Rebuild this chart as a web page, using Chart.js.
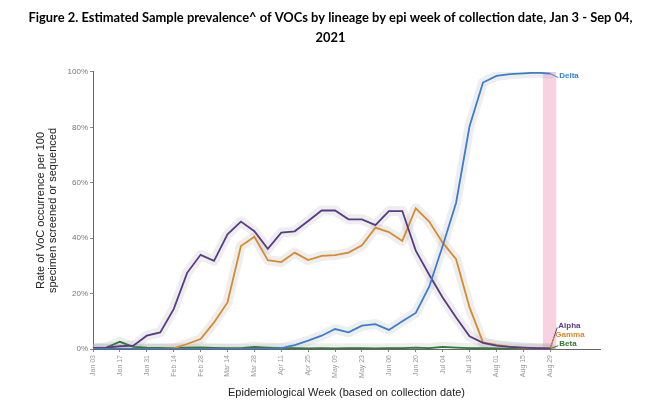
<!DOCTYPE html>
<html>
<head>
<meta charset="utf-8">
<script src="https://cdn.jsdelivr.net/npm/chart.js@4.4.1/dist/chart.umd.min.js"></script>
<style>
  html, body { margin: 0; padding: 0; background: #fff; }
  #wrap { width: 661px; height: 412px; position: relative; }
</style>
</head>
<body>
<div id="wrap"><canvas id="c" width="661" height="412"></canvas></div>
<script>
const titleLines = ['Figure 2. Estimated Sample prevalence^ of VOCs by lineage by epi week of collection date, Jan 3 - Sep 04,', '2021'];
const yTitle = ['Rate of VoC occurrence per 100', 'specimen screened or sequenced'];
const xTitle = 'Epidemiological Week (based on collection date)';

const weeks = ['Jan 03','Jan 10','Jan 17','Jan 24','Jan 31','Feb 07','Feb 14','Feb 21','Feb 28','Mar 07',
  'Mar 14','Mar 21','Mar 28','Apr 04','Apr 11','Apr 18','Apr 25','May 02','May 09','May 16',
  'May 23','May 30','Jun 06','Jun 13','Jun 20','Jun 27','Jul 04','Jul 11','Jul 18','Jul 25',
  'Aug 01','Aug 08','Aug 15','Aug 22','Aug 29'];

const alpha = [0.3,0.5,1.0,1.2,4.8,6.0,14.4,27.5,34.0,31.8,41.4,46.0,42.5,36.2,42.0,42.5,46.2,50.0,50.0,46.8,
  46.8,44.7,49.8,49.8,35.5,26.8,18.6,11.4,4.6,2.2,1.2,0.8,0.5,0.3,0.2];
const gamma = [0,0,0,0,0,0,0.2,1.8,3.6,9.6,16.8,37.2,40.5,32.1,31.4,34.8,32.1,33.6,33.9,34.8,
  37.4,43.8,42.2,39.0,50.8,46.0,38.4,32.4,15.0,2.4,1.5,0.8,0.4,0.2,0.2];
const delta = [0,0,0,0,0,0,0,0,0,0,0,0,0.1,0.1,0.3,1.4,3.0,4.8,7.2,6.0,
  8.4,9.0,6.9,10.0,13.0,22.5,37.2,52.8,80.4,96.2,98.6,99.2,99.5,99.8,99.4];
const beta = [0.3,0.5,2.6,0.8,0.5,0.4,0.3,0.5,0.6,0.4,0.3,0.3,0.8,0.5,0.3,0.3,0.2,0.3,0.2,0.3,
  0.3,0.2,0.3,0.3,0.5,0.3,0.8,0.5,0.3,0.3,0.2,0.1,0.1,0.1,0.1];

const yTicks = [0,20,40,60,80,100];
const highlightWeek = 'Aug 29';

const series = [
  { name: 'Delta', data: delta, color: '#3B7DD3' },
  { name: 'Alpha', data: alpha, color: '#5A3B86' },
  { name: 'Gamma', data: gamma, color: '#D98A2A' },
  { name: 'Beta',  data: beta,  color: '#2F7A35' }
];
// label anchor offsets (pixels relative to last point)
const labelPos = { Delta: [9, 2], Alpha: [8, -23], Gamma: [5, -14], Beta: [9, -5] };

const datasets = [];
series.forEach((s, i) => {
  datasets.push({ label: s.name, data: s.data, borderColor: s.color, borderWidth: 1.8,
    pointRadius: 0, tension: 0, fill: false, order: i });
});
series.forEach((s, i) => {
  datasets.push({ label: s.name + ' CI', data: s.data, borderColor: 'rgba(170,170,175,0.2)', borderWidth: 10,
    pointRadius: 0, tension: 0, fill: false, order: 10 + i, borderJoinStyle: 'round', borderCapStyle: 'round' });
});

const overlay = {
  id: 'overlay',
  beforeDatasetsDraw(chart) {
    const { ctx, chartArea } = chart;
    const x = chart.scales.x;
    const idx = weeks.indexOf(highlightWeek);
    const x0 = x.getPixelForValue(idx - 0.55);
    const x1 = x.getPixelForValue(idx + 0.45);
    ctx.save();
    ctx.fillStyle = '#F8D2E0';
    ctx.fillRect(x0, chartArea.top, x1 - x0, chartArea.bottom - chartArea.top);
    ctx.restore();
  },
  afterDatasetsDraw(chart) {
    const { ctx } = chart;
    const xs = chart.scales.x, ys = chart.scales.y;
    ctx.save();
    ctx.font = 'bold 8px "Liberation Sans", Arial, sans-serif';
    ctx.textBaseline = 'middle';
    series.forEach(s => {
      const last = s.data.length - 1;
      const px = xs.getPixelForValue(last);
      const py = ys.getPixelForValue(s.data[last]);
      const [dx, dy] = labelPos[s.name];
      ctx.strokeStyle = s.color;
      ctx.lineWidth = 1;
      ctx.beginPath();
      ctx.moveTo(px, py);
      ctx.lineTo(px + dx - 1, py + dy + 2);
      ctx.stroke();
      ctx.fillStyle = s.color;
      ctx.fillText(s.name, px + dx, py + dy);
    });
    ctx.restore();
  }
};

new Chart(document.getElementById('c'), {
  type: 'line',
  data: { labels: weeks.map((_, i) => i), datasets },
  options: {
    responsive: false,
    animation: false,
    events: [],
    layout: { padding: 0 },
    plugins: {
      legend: { display: false },
      tooltip: { enabled: false },
      title: {
        display: true, text: titleLines, color: '#000',
        font: { family: 'Lato, "Open Sans", sans-serif', size: 12.9, weight: 'bold', lineHeight: 1.55 },
        padding: { top: 8, bottom: 24 }
      }
    },
    scales: {
      x: {
        type: 'linear', min: 0, max: 37.7,
        afterBuildTicks(scale) { scale.ticks = weeks.map((_, i) => i).filter(i => i % 2 === 0).map(v => ({ value: v })); },
        afterFit(scale) { scale.height = 63; },
        ticks: { callback: v => weeks[v], color: '#999', font: { size: 7, family: '"Liberation Sans", Arial, sans-serif' },
          minRotation: 90, maxRotation: 90, padding: 3, autoSkip: false },
        grid: { display: true, drawOnChartArea: false, drawTicks: true, tickLength: 3, color: '#888' },
        border: { display: true, color: '#666', width: 1 },
        title: { display: true, text: xTitle, color: '#222',
          font: { size: 11, family: '"Liberation Sans", Arial, sans-serif' }, padding: { top: 0, bottom: 12 } }
      },
      y: {
        min: 0, max: 100,
        afterBuildTicks(scale) { scale.ticks = yTicks.map(v => ({ value: v })); },
        afterFit(scale) { scale.width = 93; },
        ticks: { callback: v => v + '%', color: '#777', font: { size: 8, family: '"Liberation Sans", Arial, sans-serif' }, padding: 2 },
        grid: { display: true, drawOnChartArea: false, drawTicks: true, tickLength: 3, color: '#888' },
        border: { display: true, color: '#666', width: 1 },
        title: { display: true, text: yTitle, color: '#222',
          font: { size: 11, family: '"Liberation Sans", Arial, sans-serif', lineHeight: 1.1 }, padding: { top: 35, bottom: 0 } }
      },
      yRight: {
        position: 'right', min: 0, max: 100,
        afterFit(scale) { scale.width = 61; },
        ticks: { display: false },
        grid: { display: false },
        border: { display: false }
      }
    }
  },
  plugins: [overlay]
});
</script>
</body>
</html>
